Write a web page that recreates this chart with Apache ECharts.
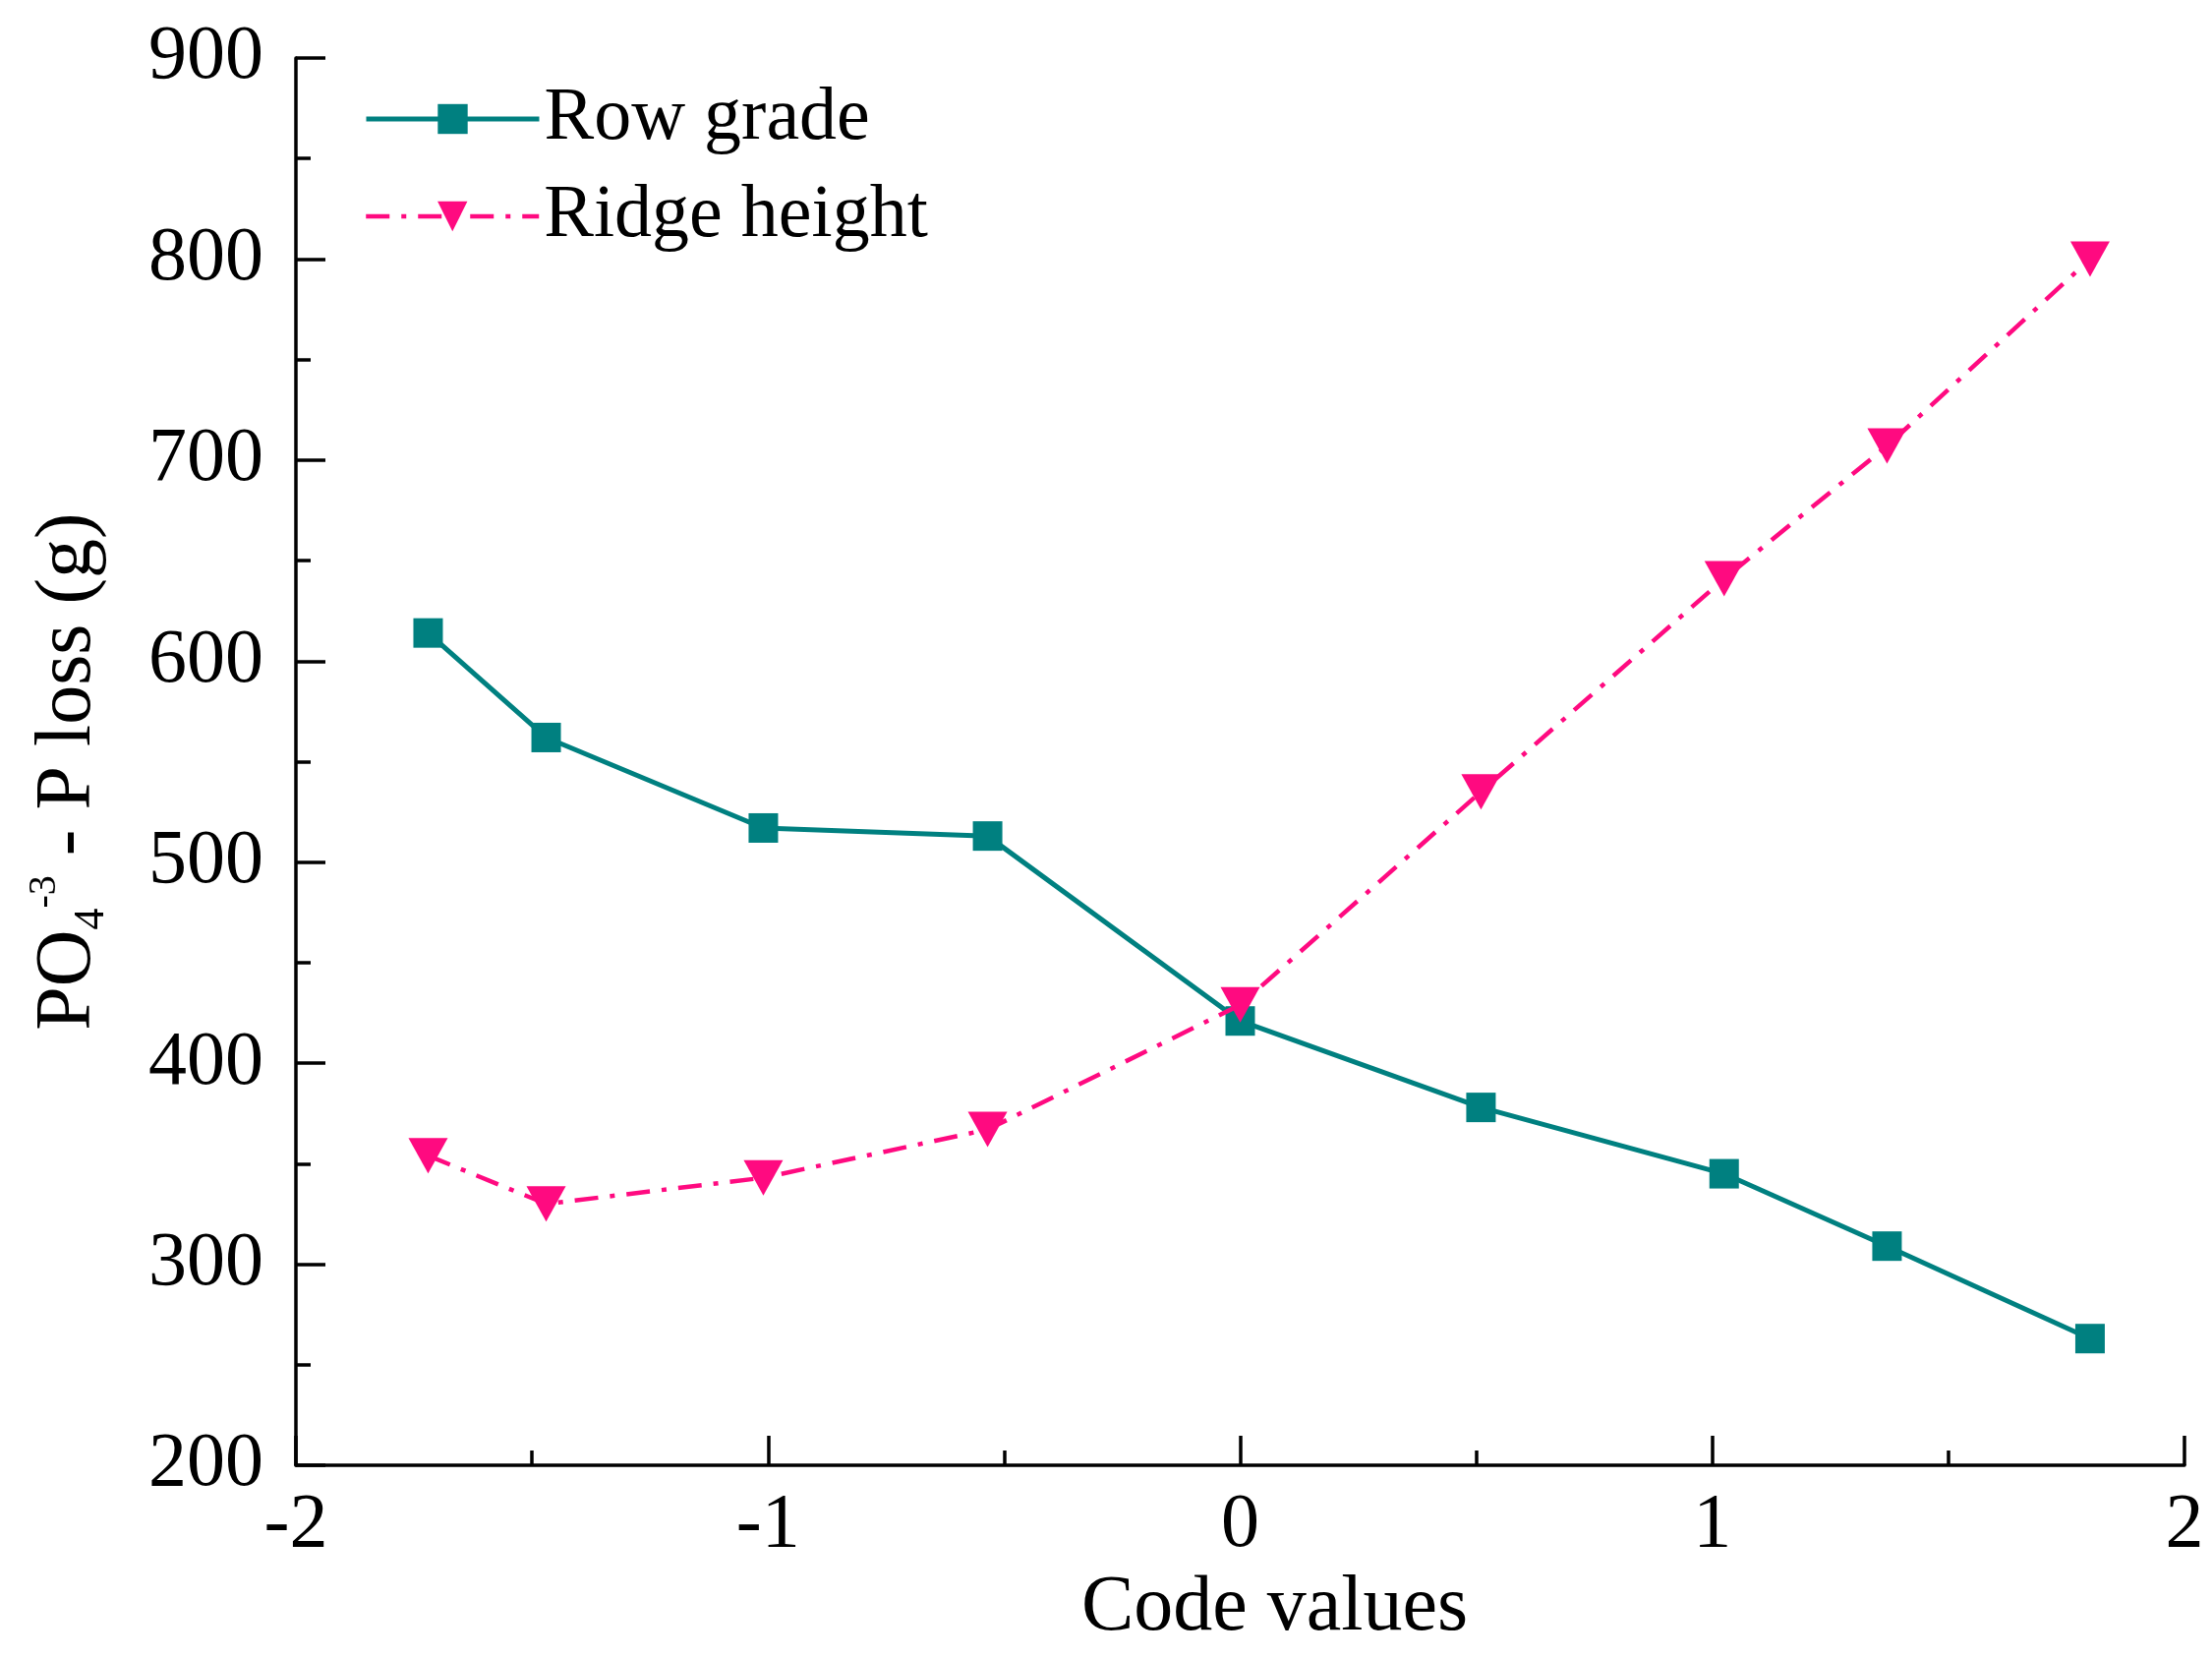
<!DOCTYPE html>
<html>
<head>
<meta charset="utf-8">
<script src="https://cdn.jsdelivr.net/npm/echarts@6/dist/echarts.min.js"></script>
<style>
html,body{margin:0;padding:0;background:#fff;}
#chart{width:2250px;height:1686px;}
</style>
</head>
<body>
<div id="chart"></div>
<script>
// ---- data ----
const codeValues = [-1.72, -1.47, -1.01, -0.535, 0, 0.51, 1.025, 1.37, 1.80];
const rowGrade = [614, 562, 517, 513, 421, 378, 345, 309, 263];
const ridgeHeight = [354, 330, 343, 367, 429, 535, 641, 707, 800];
const xTicks = [-2, -1, 0, 1, 2];
const yTicks = [200, 300, 400, 500, 600, 700, 800, 900];

const FONT = '"Liberation Serif", "Times New Roman", serif';
const TEAL = '#008080';
const PINK = '#FF0A80';
const RIDGE_DASH = [24, 12, 5, 12];

const rowData = codeValues.map((x, i) => [x, rowGrade[i]]);
const ridgeData = codeValues.map((x, i) => [x, ridgeHeight[i]]);

const chart = echarts.init(document.getElementById('chart'), null, {renderer: 'canvas'});

const legendCommon = {
  orient: 'vertical',
  left: 365,
  itemWidth: 176,
  itemHeight: 38,
  itemGap: 0,
  itemTextGap: 20,
  selectedMode: false,
  textStyle: {fontFamily: FONT, fontSize: 76, color: '#000', lineHeight: 80}
};

chart.setOption({
  backgroundColor: '#fff',
  animation: false,
  grid: {left: 301, right: 28, top: 59, bottom: 196, containLabel: false},
  legend: [
    Object.assign({}, legendCommon, {top: 76, data: ['Row grade'],
      lineStyle: {width: 5, color: TEAL, type: 'solid'}}),
    Object.assign({}, legendCommon, {top: 175, data: ['Ridge height'],
      lineStyle: {width: 4.5, color: PINK, type: RIDGE_DASH}})
  ],
  xAxis: {
    type: 'value',
    min: xTicks[0],
    max: xTicks[xTicks.length - 1],
    interval: 1,
    name: 'Code values',
    nameLocation: 'middle',
    nameGap: 95,
    nameTextStyle: {fontFamily: FONT, fontSize: 80, color: '#000', padding: [0, 0, 0, 70]},
    axisLine: {show: true, onZero: false, lineStyle: {color: '#000', width: 3.5}},
    axisTick: {show: true, inside: true, length: 30, lineStyle: {color: '#000', width: 3.5}},
    minorTick: {show: true, splitNumber: 2, length: 15, lineStyle: {color: '#000', width: 3.5}},
    axisLabel: {fontFamily: FONT, fontSize: 78, color: '#000', margin: 23, showMinLabel: true, showMaxLabel: true},
    splitLine: {show: false}
  },
  yAxis: {
    type: 'value',
    min: yTicks[0],
    max: yTicks[yTicks.length - 1],
    interval: 100,
    name: '{b|PO}{sub|4}{sup|-3}{b| - P loss (g)}',
    nameLocation: 'middle',
    nameGap: 186,
    nameTextStyle: {
      fontFamily: FONT, fontSize: 78, color: '#000',
      padding: [0, 20, 0, 0],
      rich: {
        b: {fontFamily: FONT, fontSize: 80, color: '#000', lineHeight: 90},
        sub: {fontFamily: FONT, fontSize: 44, color: '#000', lineHeight: 44, verticalAlign: 'bottom'},
        sup: {fontFamily: FONT, fontSize: 40, color: '#000', lineHeight: 40, verticalAlign: 'top'}
      }
    },
    axisLine: {show: true, onZero: false, lineStyle: {color: '#000', width: 3.5}},
    axisTick: {show: true, inside: true, length: 30, lineStyle: {color: '#000', width: 3.5}},
    minorTick: {show: true, splitNumber: 2, length: 15, lineStyle: {color: '#000', width: 3.5}},
    axisLabel: {fontFamily: FONT, fontSize: 78, color: '#000', margin: 33},
    splitLine: {show: false}
  },
  series: [
    {
      name: 'Row grade',
      type: 'line',
      data: rowData,
      symbol: 'rect',
      symbolSize: 30,
      itemStyle: {color: TEAL},
      lineStyle: {color: TEAL, width: 5, type: 'solid'},
      z: 3
    },
    {
      name: 'Ridge height',
      type: 'line',
      data: ridgeData,
      symbol: 'triangle',
      symbolRotate: 180,
      symbolSize: [40, 36],
      itemStyle: {color: PINK},
      lineStyle: {color: PINK, width: 4.5, type: RIDGE_DASH},
      z: 4
    }
  ]
});
</script>
</body>
</html>
